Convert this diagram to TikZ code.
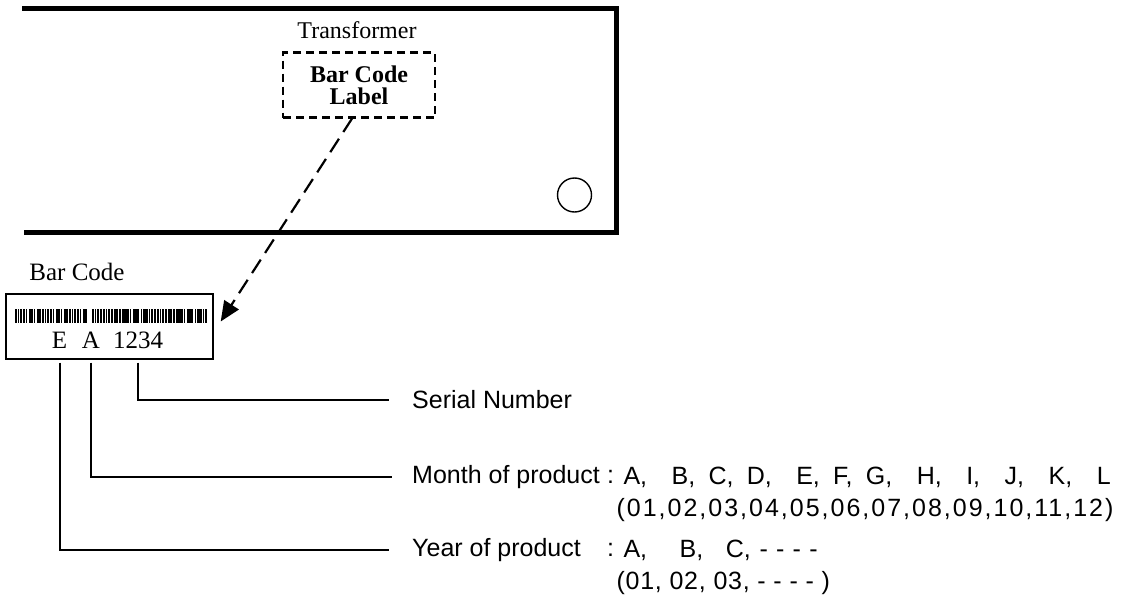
\documentclass[tikz,border=0pt]{standalone}
\usepackage{fontspec}
\setmainfont{Liberation Serif}
\setsansfont{Liberation Sans}
\newfontfamily\spacedsans[LetterSpace=8]{Liberation Sans}
\newfontfamily\lightspacedsans[LetterSpace=3]{Liberation Sans}
\usetikzlibrary{arrows.meta}
\newcommand\gs{\hspace{0.53em}}
\newcommand\gd{\hspace{0.98em}}
\begin{document}
\begin{tikzpicture}[x=1pt,y=-1pt,
  frame/.style={line width=5pt,line join=miter},
  conn/.style={line width=2pt},
  sanstext/.style={font=\sffamily\fontsize{25}{27}\selectfont,inner sep=0pt},
  numtext/.style={font=\spacedsans\fontsize{25}{27}\selectfont,inner sep=0pt},
  numtextb/.style={font=\lightspacedsans\fontsize{25}{27}\selectfont,inner sep=0pt},
  serif/.style={font=\fontsize{25}{27}\selectfont,inner sep=0pt},
  dashbox/.style={draw,line width=2.2pt,dash pattern=on 8pt off 5pt,minimum width=152pt,minimum height=65pt,align=center,font=\bfseries\fontsize{24}{22}\selectfont,inner sep=0pt},
  dasharrow/.style={line width=2.2pt,dash pattern=on 16pt off 8pt,-{Triangle[length=20pt,width=17pt]}}
]
\useasboundingbox (0,0) rectangle (1137,605);
% transformer outline
\coordinate (tl) at (22,8.5);
\coordinate (tr) at (616.5,8.5);
\coordinate (br) at (616.5,232);
\coordinate (bl) at (24,232);
\draw[frame] (tl) -- (tr) -- (br) -- (bl);
\node[circle,draw,line width=1.4pt,minimum size=34pt,inner sep=0pt] (hole) at (574.5,195) {};
\node[serif,font=\fontsize{24}{26}\selectfont] (tf) at (357,30) {Transformer};
\node[dashbox] (lbl) at (359,85) {Bar Code\\Label};
% bar code label
\node[serif] (bccap) at (77,272) {Bar Code};
\node[draw,line width=1.4pt,minimum width=207pt,minimum height=65pt,inner sep=0pt] (bc) at (109.5,326.5) {};
\foreach \i in {0,...,26}{
  \pgfmathsetmacro\w{mod(\i*7,5)<2 ? 2.3 : 1.5}
  \fill (15+\i*2.7,309) rectangle ++(\w,14);
}
\foreach \i in {0,...,42}{
  \pgfmathsetmacro\w{mod(\i*3,4)<2 ? 2.3 : 1.5}
  \fill (92+\i*2.7,309) rectangle ++(\w,14);
}
\node[serif] (E) at (59.5,340) {E};
\node[serif] (A) at (91,340) {A};
\node[serif] (num) at (138,340) {1234};
% dashed pointer
\draw[dasharrow] ([xshift=-7pt]lbl.south) -- ([xshift=7pt,yshift=5pt]bc.east);
% leader lines
\coordinate (sEnd) at (389,400);
\coordinate (mEnd) at (392,477);
\coordinate (yEnd) at (389,550);
\draw[conn] ([yshift=-3pt]bc.south -| num) -- (sEnd -| num) -- (sEnd);
\draw[conn] ([yshift=-3pt]bc.south -| A) -- (mEnd -| A) -- (mEnd);
\draw[conn] ([yshift=-3pt]bc.south -| E) -- (yEnd -| E) -- (yEnd);
% descriptions
\node[sanstext,anchor=west] (sn) at (412,400) {Serial Number};
\node[sanstext,anchor=west] (mo) at (412,477) {Month of product};
\node[sanstext,anchor=west] (mcol) at ([xshift=7pt]mo.east) {:};
\node[sanstext,anchor=west] (mlist) at ([xshift=9pt]mcol.east) {A,\gd B,\gs C,\gs D,\gd E,\gs F,\gs G,\gd H,\gd I,\gd J,\gd K,\gd L};
\node[numtext,anchor=west] (mnum) at ([xshift=-7pt,yshift=-33pt]mlist.west) {(01,02,03,04,05,06,07,08,09,10,11,12)};
\node[sanstext,anchor=west] (yr) at (412,550) {Year of product};
\node[sanstext,anchor=west] (ycol) at (mcol.west |- yr) {:};
\node[sanstext,anchor=west] (ylist) at ([xshift=9pt]ycol.east) {A,\hspace{1.3em}B,\hspace{0.9em}C,\hspace{0.35em}-\hspace{0.33em}-\hspace{0.33em}-\hspace{0.33em}-};
\node[numtextb,anchor=west] (ynum) at ([xshift=-7pt,yshift=-33pt]ylist.west) {(01, 02, 03, -\ -\ -\ - )};
\end{tikzpicture}
\end{document}
